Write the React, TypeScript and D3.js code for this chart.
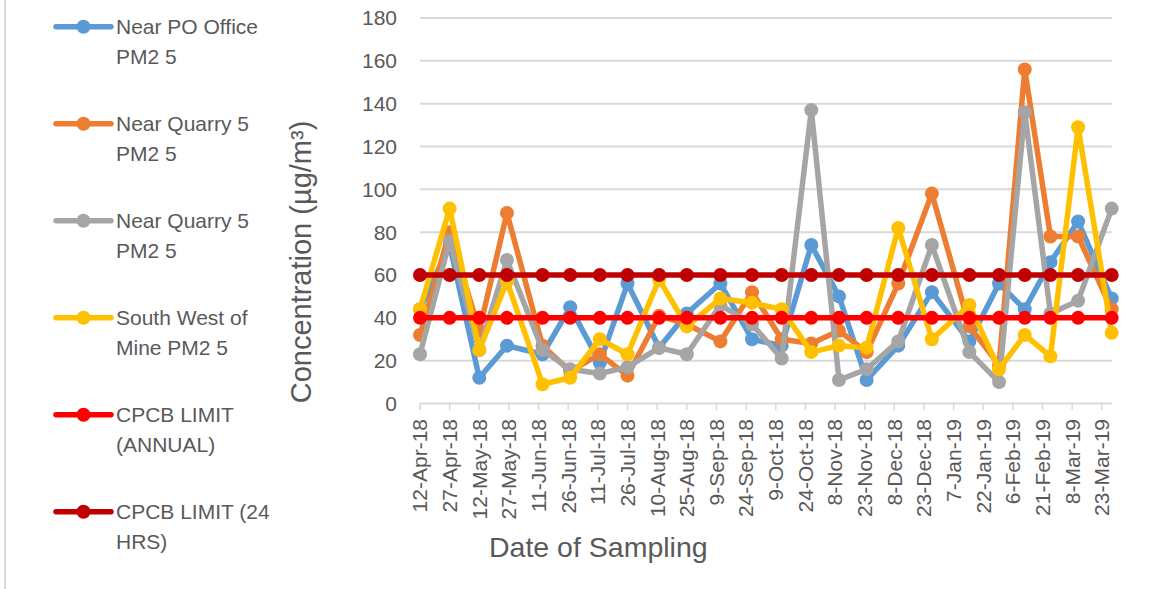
import React from 'react';
import * as d3 from 'd3';

// sampling dates
const sampleDates = [
  '12-Apr-18', '27-Apr-18', '12-May-18', '26-May-18', '13-Jun-18', '27-Jun-18',
  '12-Jul-18', '26-Jul-18', '11-Aug-18', '25-Aug-18', '11-Sep-18', '27-Sep-18',
  '12-Oct-18', '27-Oct-18', '10-Nov-18', '24-Nov-18', '10-Dec-18', '27-Dec-18',
  '15-Jan-19', '30-Jan-19', '12-Feb-19', '25-Feb-19', '11-Mar-19', '28-Mar-19'
];

const nearPoOffice = [44, 74, 12, 27, 23, 45, 19, 56, 26, 42, 56, 30, 27, 74, 50, 11, 27, 52, 29, 56, 44, 66, 85, 49];
const nearQuarryA = [32, 80, 34, 89, 27, 15, 23, 13, 41, 37, 29, 52, 30, 28, 34, 24, 56, 98, 36, 18, 156, 78, 78, 44];
const nearQuarryB = [23, 76, 25, 67, 25, 16, 14, 17, 26, 23, 46, 37, 21, 137, 11, 16, 29, 74, 24, 10, 136, 42, 48, 91];
const southWestMine = [44, 91, 25, 57, 9, 12, 30, 23, 58, 36, 49, 47, 44, 24, 27, 26, 82, 30, 46, 16, 32, 22, 129, 33];
const limitAnnual = [40, 40, 40, 40, 40, 40, 40, 40, 40, 40, 40, 40, 40, 40, 40, 40, 40, 40, 40, 40, 40, 40, 40, 40];
const limit24h = [60, 60, 60, 60, 60, 60, 60, 60, 60, 60, 60, 60, 60, 60, 60, 60, 60, 60, 60, 60, 60, 60, 60, 60];

const seriesNames = [
  ['Near PO Office', 'PM2 5'],
  ['Near Quarry 5', 'PM2 5'],
  ['Near Quarry 5', 'PM2 5'],
  ['South West of', 'Mine PM2 5'],
  ['CPCB LIMIT', '(ANNUAL)'],
  ['CPCB LIMIT (24', 'HRS)']
];
const seriesValues = [nearPoOffice, nearQuarryA, nearQuarryB, southWestMine, limitAnnual, limit24h];
const seriesColors = ['#5B9BD5', '#ED7D31', '#A5A5A5', '#FFC000', '#FF0000', '#C00000'];

const yTicks = [0, 20, 40, 60, 80, 100, 120, 140, 160, 180];

const W = 1152;
const H = 589;
const FONT = '"Liberation Sans", Arial, sans-serif';
const TEXT = '#595959';
const GRID = '#d9d9d9';

export default function App() {
  const parse = d3.utcParse('%d-%b-%y');
  const fmt = d3.utcFormat('%-d-%b-%y');
  const dates = sampleDates.map(s => parse(s) as Date);

  const x = d3.scaleUtc()
    .domain([dates[0], dates[dates.length - 1]])
    .range([420, 1111.7]);
  const y = d3.scaleLinear().domain([0, 180]).range([403.5, 18]);

  // date axis ticks every 15 days from the first sample
  const xTicks: Date[] = [];
  for (let d = dates[0]; d <= dates[dates.length - 1]; d = d3.utcDay.offset(d, 15)) {
    xTicks.push(d);
  }

  const line = d3.line<number>()
    .x((_, i) => x(dates[i]))
    .y(v => y(v));

  const [x0, x1] = x.range();

  return (
    <svg width={W} height={H} style={{ position: 'absolute', left: 0, top: 0, background: '#fff' }}
         fontFamily={FONT}>
      <line x1={5} x2={5} y1={0} y2={H} stroke={GRID} strokeWidth={2} />

      {/* gridlines */}
      {yTicks.map(t => (
        <line key={'g' + t} x1={x0} x2={x1} y1={y(t)} y2={y(t)} stroke={GRID} strokeWidth={2} />
      ))}
      {yTicks.map(t => (
        <text key={'yl' + t} x={397} y={y(t)} dy="0.35em" textAnchor="end"
              fontSize={21} fill={TEXT}>{t}</text>
      ))}

      {/* x axis ticks and labels */}
      {xTicks.map((d, i) => (
        <g key={'xt' + i}>
          <line x1={x(d)} x2={x(d)} y1={y(0)} y2={410} stroke={GRID} strokeWidth={1.5} />
          <text transform={`translate(${x(d)},419) rotate(-90)`} dy="0.35em" textAnchor="end"
                fontSize={21} fill={TEXT}>{fmt(d)}</text>
        </g>
      ))}
      <line x1={x0} x2={x0} y1={y(0)} y2={410} stroke={GRID} strokeWidth={1.5} />

      {/* series */}
      {seriesValues.map((vals, s) => (
        <g key={'s' + s}>
          <path d={line(vals) || ''} fill="none" stroke={seriesColors[s]} strokeWidth={5.5}
                strokeLinejoin="round" strokeLinecap="round" />
          {vals.map((v, i) => (
            <circle key={i} cx={x(dates[i])} cy={y(v)} r={7} fill={seriesColors[s]} />
          ))}
        </g>
      ))}

      {/* axis titles */}
      <text transform="translate(311,262) rotate(-90)" textAnchor="middle" fontSize={29} fill={TEXT}>
        Concentration (µg/m³)
      </text>
      <text x={489} y={557} fontSize={28.5} fill={TEXT}>Date of Sampling</text>

      {/* legend */}
      {seriesNames.map((name, s) => {
        const ly = 26.7 + 97 * s;
        return (
          <g key={'lg' + s}>
            <line x1={56} x2={111} y1={ly} y2={ly} stroke={seriesColors[s]} strokeWidth={5.5}
                  strokeLinecap="round" />
            <circle cx={83.5} cy={ly} r={7} fill={seriesColors[s]} />
            <text x={116} y={ly + 7.5} fontSize={21} fill={TEXT}>{name[0]}</text>
            <text x={116} y={ly + 37} fontSize={21} fill={TEXT}>{name[1]}</text>
          </g>
        );
      })}
    </svg>
  );
}
